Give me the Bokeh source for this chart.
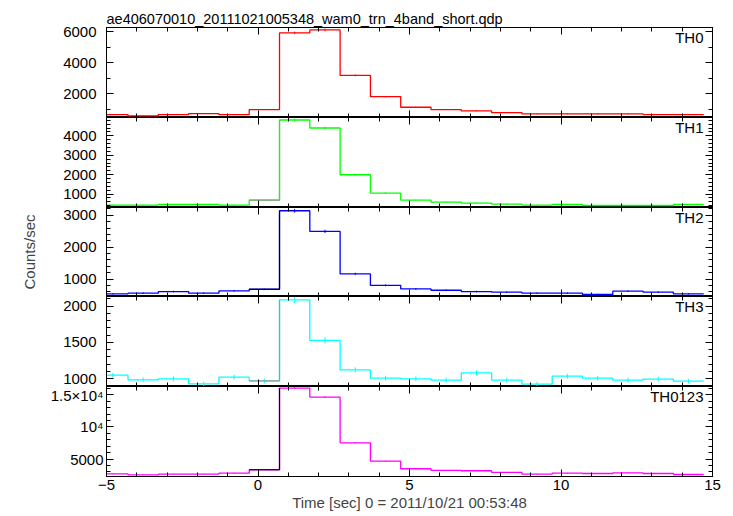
import numpy as np
from bokeh.plotting import figure
from bokeh.layouts import column
from bokeh.models import LinearAxis, SingleIntervalTicker, Range1d, Label
from bokeh.embed import file_html
from bokeh.resources import INLINE

TITLE = "ae406070010_20111021005348_wam0_trn_4band_short.qdp"
X_LABEL = "Time [sec] 0 = 2011/10/21 00:53:48"
Y_LABEL = "Counts/sec"

TIME = [-4.79, -3.79, -2.79, -1.79, -0.79, 0.21, 1.21, 2.21, 3.21, 4.21,
        5.21, 6.21, 7.21, 8.21, 9.21, 10.21, 11.21, 12.21, 13.21, 14.21]
BIN_HALF = 0.5

TH0 = [643, 557, 643, 708, 643, 966, 5933, 6126, 3180, 1805,
       1116, 966, 880, 772, 686, 686, 686, 686, 643, 643]
TH0_ERR = [27, 25, 27, 28, 27, 32, 80, 82, 58, 45, 35, 32, 31, 29, 28, 28, 28, 28, 27, 27]

TH1 = [433, 433, 464, 464, 433, 691, 4814, 4402, 1995, 1052,
       691, 588, 536, 485, 433, 464, 412, 412, 412, 464]
TH1_ERR = [22, 22, 23, 23, 22, 28, 72, 70, 46, 34, 28, 26, 25, 24, 22, 23, 22, 22, 22, 23]

TH2 = [539, 559, 610, 559, 631, 682, 3144, 2497, 1164, 805,
       692, 651, 610, 590, 559, 559, 518, 621, 590, 539]
TH2_ERR = [24, 25, 26, 25, 26, 27, 58, 52, 36, 30, 28, 27, 26, 26, 25, 25, 24, 26, 26, 24]

TH3 = [1046, 982, 996, 927, 1019, 968, 2087, 1526, 1119, 1005,
       996, 978, 1078, 978, 923, 1032, 1005, 978, 992, 964]
TH3_ERR = [33, 32, 33, 31, 33, 32, 48, 41, 35, 33, 33, 32, 34, 32, 31, 33, 33, 32, 33, 32]

TH0123 = [2704, 2547, 2651, 2651, 2799, 3333, 16062, 14647, 7520, 4690,
          3491, 3223, 3176, 2908, 2642, 2799, 2745, 2850, 2745, 2590]
TH0123_ERR = [55, 53, 54, 54, 56, 60, 130, 125, 90, 70, 62, 59, 58, 56, 53, 55, 54, 55, 54, 53]

RISE_BIN = 5  # bin just before the burst

FONT = "Liberation Sans"
FS = "15px"

# name, values, errors, color, rise-highlight color, ymin, ymax, major interval, minor count, overrides
PANELS = [
    ("TH0", TH0, TH0_ERR, "#ff0000", None, 452, 6284, 2000, 2, None),
    ("TH1", TH1, TH1_ERR, "#00ff00", "#9a9a9a", 309, 4943, 1000, 5, None),
    ("TH2", TH2, TH2_ERR, "#0000ff", "#000000", 455, 3246, 1000, 5, None),
    ("TH3", TH3, TH3_ERR, "#00ffff", "#9a9a9a", 890, 2133, 500, 5, None),
    ("TH0123", TH0123, TH0123_ERR, "#ff00ff", "#000000", 2280, 16300, 5000, 5,
     {5000: "5000", 10000: "10\u2074", 15000: "1.5\u00d710\u2074"}),
]
FRAME_H = [90, 90, 89, 90, 90]
TOP_EXTRA = 27
BOTTOM_EXTRA = 38
LEFT = 106
FRAME_W = 606
RIGHT = 13
W = LEFT + FRAME_W + RIGHT


def style_axis(ax, show_labels, standoff=4):
    ax.axis_line_color = "black"
    ax.axis_line_width = 1
    ax.major_tick_line_color = "black"
    ax.minor_tick_line_color = "black"
    ax.major_tick_in = 7
    ax.major_tick_out = 0
    ax.minor_tick_in = 4
    ax.minor_tick_out = 0
    ax.major_label_text_font = FONT
    if show_labels:
        ax.major_label_text_font_size = FS
        ax.major_label_text_color = "black"
        ax.major_label_standoff = standoff
    else:
        ax.major_label_text_font_size = "1px"
        ax.major_label_text_color = None
        ax.major_label_standoff = 0


figs = []
t = np.array(TIME)
edges = np.concatenate([t - BIN_HALF, [t[-1] + BIN_HALF]])
xs = np.repeat(edges, 2)[1:-1]

n = len(PANELS)
for i, (name, vals, errs, color, hl, ymin, ymax, interval, nminor, overrides) in enumerate(PANELS):
    first = i == 0
    last = i == n - 1
    h = FRAME_H[i] + (TOP_EXTRA if first else 0) + (BOTTOM_EXTRA if last else 0)
    p = figure(width=W, height=h, x_range=Range1d(-5, 15), y_range=Range1d(ymin, ymax),
               output_backend="svg", toolbar_location=None,
               x_axis_location=None, y_axis_location=None,
               title=TITLE if first else None,
               min_border_left=LEFT, min_border_right=RIGHT,
               min_border_top=TOP_EXTRA if first else 0,
               min_border_bottom=BOTTOM_EXTRA if last else 0)
    p.outline_line_color = "black"
    p.outline_line_width = 1
    p.background_fill_color = "white"
    p.border_fill_color = "white"
    p.grid.visible = False
    if first:
        p.title.text_font = FONT
        p.title.text_font_size = "14.5px"
        p.title.text_font_style = "normal"
        p.title.text_color = "black"
        p.title.align = "left"
        p.title.standoff = 2
        p.title.offset = 0

    xt = SingleIntervalTicker(interval=5, num_minor_ticks=5)
    yt = SingleIntervalTicker(interval=interval, num_minor_ticks=nminor)

    bottom = LinearAxis(ticker=xt)
    style_axis(bottom, last, standoff=3)
    if last:
        bottom.axis_label = X_LABEL
        bottom.axis_label_text_font = FONT
        bottom.axis_label_text_font_size = FS
        bottom.axis_label_text_font_style = "normal"
        bottom.axis_label_standoff = 1
        bottom.major_label_overrides = {-5: "\u22125"}
    p.add_layout(bottom, "below")

    top = LinearAxis(ticker=xt)
    style_axis(top, False)
    p.add_layout(top, "above")

    left = LinearAxis(ticker=yt)
    style_axis(left, True, standoff=10 if not overrides else 3)
    if overrides:
        left.major_label_overrides = overrides
    if i == 2:
        left.axis_label = Y_LABEL
        left.axis_label_text_font = FONT
        left.axis_label_text_font_size = FS
        left.axis_label_text_font_style = "normal"
        left.axis_label_standoff = 22
    p.add_layout(left, "left")

    right = LinearAxis(ticker=yt)
    style_axis(right, False)
    p.add_layout(right, "right")

    v = np.array(vals, dtype=float)
    e = np.array(errs, dtype=float)
    ys = np.repeat(v, 2)
    p.line(xs, ys, color=color, line_width=1.3)
    p.segment(x0=t, y0=v - e, x1=t, y1=v + e, color=color, line_width=1)

    if hl:
        k = RISE_BIN
        p.line([edges[k], edges[k + 1], edges[k + 1]], [v[k], v[k], v[k + 1]],
               color=hl, line_width=1.2)

    p.add_layout(Label(x=15, y=ymax, x_offset=-9, y_offset=-1, text=name,
                       text_align="right", text_baseline="top",
                       text_font=FONT, text_font_size=FS, text_color="black"))
    figs.append(p)

layout = column(*figs, spacing=0)
open("out.html", "w").write(file_html(layout, INLINE))
